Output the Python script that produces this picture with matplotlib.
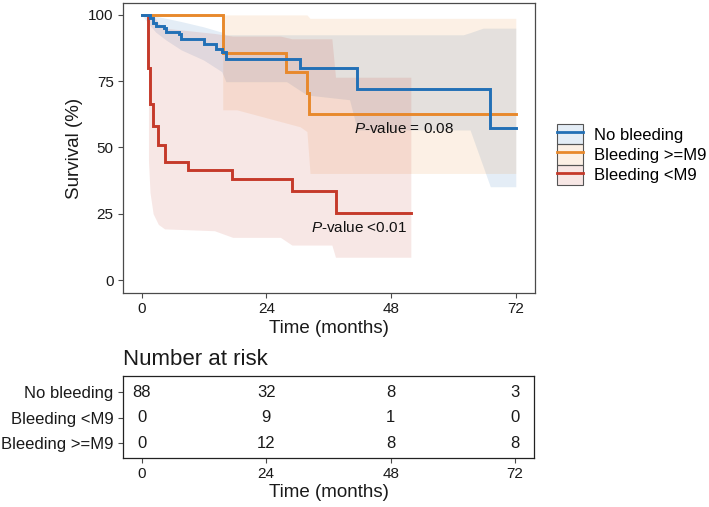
import matplotlib
matplotlib.use("Agg")
import matplotlib.pyplot as plt
from matplotlib.patches import Patch
from matplotlib.lines import Line2D
from matplotlib.colors import to_rgba

plt.rcParams['font.family'] = ['Liberation Sans', 'DejaVu Sans']
plt.rcParams['mathtext.fontset'] = 'custom'
plt.rcParams['mathtext.rm'] = 'Liberation Sans'
plt.rcParams['mathtext.it'] = 'Liberation Sans:italic'

# ---------------- data ----------------
groups = ["No bleeding", "Bleeding >=M9", "Bleeding <M9"]
colors = ["#2270B6", "#E8892C", "#C53A2A"]

# KM step curves (months, survival %)
blue_t = [0, 1.6, 2.2, 2.7, 4.2, 4.7, 7.1, 7.6, 11.9, 14.3, 15.4, 16.2, 30.5, 41.5, 67.1, 72]
blue_s = [100, 98.7, 97.1, 95.8, 95.0, 93.7, 92.8, 90.8, 89.0, 87.2, 85.9, 83.2, 80.0, 72.0, 57.5, 57.5]

orange_t = [0, 15.6, 27.7, 31.8, 32.2, 72]
orange_s = [100, 85.8, 78.4, 70.4, 62.6, 62.6]

red_t = [0, 1.3, 1.6, 2.2, 3.2, 4.4, 9.0, 17.4, 28.9, 37.3, 51.8]
red_s = [100, 79.9, 66.4, 58.1, 50.9, 44.7, 41.5, 38.0, 33.6, 25.2, 25.2]

# confidence bands (months, lower %, upper %)
blue_bt = [0, 1.6, 2.7, 4.7, 7.6, 11.9, 15.4, 16.2, 27.9, 31.8, 40.0, 41.5, 61.9, 63.2, 65.7, 67.1, 72]
blue_lo = [100, 96, 93.5, 90.5, 86.8, 83, 78.6, 74.8, 74.8, 69.8, 68, 56.6, 56.6, 56.6, 42.9, 35.2, 35.2]
blue_hi = [100, 100, 99.5, 98.7, 97.5, 95.5, 93.5, 92.5, 92.5, 92.5, 92.5, 92.5, 92.5, 93.3, 95, 95, 95]

orange_bt = [0, 15.6, 15.6, 18.3, 30.5, 31.8, 32.4, 72]
orange_lo = [100, 100, 64.2, 64.2, 57.8, 56, 40.2, 40.2]
orange_hi = [100, 100, 100, 100, 100, 100, 98.7, 98.7]

red_bt = [0, 1.3, 1.3, 1.6, 2.2, 3.2, 4.4, 14.0, 17.5, 26.7, 28.9, 36.6, 37.3, 51.8]
red_lo = [100, 100, 45, 33, 25, 21, 19.3, 18.6, 16.1, 16.1, 13.2, 13.2, 8.6, 8.6]
red_hi = [100, 100, 100, 100, 100, 97, 95, 93, 92, 92, 91, 91, 76.5, 76.5]

x_ticks = [0, 24, 48, 72]
y_ticks = [0, 25, 50, 75, 100]

risk_rows = ["No bleeding", "Bleeding <M9", "Bleeding >=M9"]
risk_no = [88, 32, 8, 3]
risk_lt = [0, 9, 1, 0]
risk_ge = [0, 12, 8, 8]

pval_labels = [r"$\mathit{P}$-value = 0.08", r"$\mathit{P}$-value <0.01"]
pval_pos = [(40.9, 57.2), (32.6, 19.7)]

# ---------------- figure ----------------
W, H = 709, 507
fig = plt.figure(figsize=(W / 100, H / 100), dpi=100)
spine_col = "#4a4a4a"
band_alpha = 0.12

ax = fig.add_axes([122.7 / W, 1 - 293.3 / H, 412.3 / W, 290.6 / H])

bands = [(blue_bt, blue_lo, blue_hi), (orange_bt, orange_lo, orange_hi), (red_bt, red_lo, red_hi)]
curves = [(blue_t, blue_s), (orange_t, orange_s), (red_t, red_s)]

for (bt, lo, hi), c in zip(bands, colors):
    ax.fill_between(bt, lo, hi, color=c, alpha=band_alpha, linewidth=0)

for idx in [2, 1, 0]:
    t, s = curves[idx]
    ax.step(t, s, where="post", color=colors[idx], lw=2.1, solid_joinstyle="miter")

for lab, (px, py) in zip(pval_labels, pval_pos):
    ax.text(px, py, lab, fontsize=11, ha="left", va="center", color="#111111")

ax.set_xlim(-3.66, 75.7)
ax.set_ylim(-5.0, 104.6)
ax.set_xticks(x_ticks)
ax.set_yticks(y_ticks)
ax.tick_params(labelsize=11, length=3.5, width=0.8, color=spine_col, labelcolor="#1a1a1a", pad=3)
for sp in ax.spines.values():
    sp.set_color(spine_col)
    sp.set_linewidth(0.9)
ax.set_xlabel("Time (months)", fontsize=13.5, labelpad=3, color="#1a1a1a")
ax.set_ylabel("Survival (%)", fontsize=13.5, labelpad=4, color="#1a1a1a")

# legend
handles = []
for c in colors:
    handles.append((Patch(facecolor=to_rgba(c, band_alpha), edgecolor="#555555", linewidth=0.8),
                    Line2D([0], [0], color=c, lw=2)))
leg = fig.legend(handles, groups, loc="upper left",
                 bbox_to_anchor=(556.7 / W, 1 - 124 / H), bbox_transform=fig.transFigure,
                 frameon=False, fontsize=12, handlelength=1.56, handleheight=1.5,
                 labelspacing=0.0, handletextpad=0.65, borderpad=0, borderaxespad=0)

# risk table
axt = fig.add_axes([122.7 / W, 1 - 458.3 / H, 411.6 / W, 82.3 / H])
axt.set_xlim(-3.66, 75.7)
axt.set_ylim(0.4, 3.63)
row_vals = [risk_no, risk_lt, risk_ge]
row_y = [3, 2, 1]
for vals, yy in zip(row_vals, row_y):
    for xv, v in zip(x_ticks, vals):
        axt.text(xv, yy, str(v), ha="center", va="center", fontsize=12, color="#1a1a1a")
axt.set_yticks(row_y)
axt.set_yticklabels(risk_rows)
axt.set_xticks(x_ticks)
axt.tick_params(labelsize=11, length=3.5, width=0.8, color=spine_col, labelcolor="#1a1a1a", pad=3)
axt.tick_params(axis="y", labelsize=12)
for sp in axt.spines.values():
    sp.set_color("#222222")
    sp.set_linewidth(0.9)
axt.set_xlabel("Time (months)", fontsize=13.5, labelpad=2, color="#1a1a1a")
axt.set_title("Number at risk", loc="left", fontsize=16, pad=8, color="#1a1a1a")

fig.savefig("out.png", dpi=100)
